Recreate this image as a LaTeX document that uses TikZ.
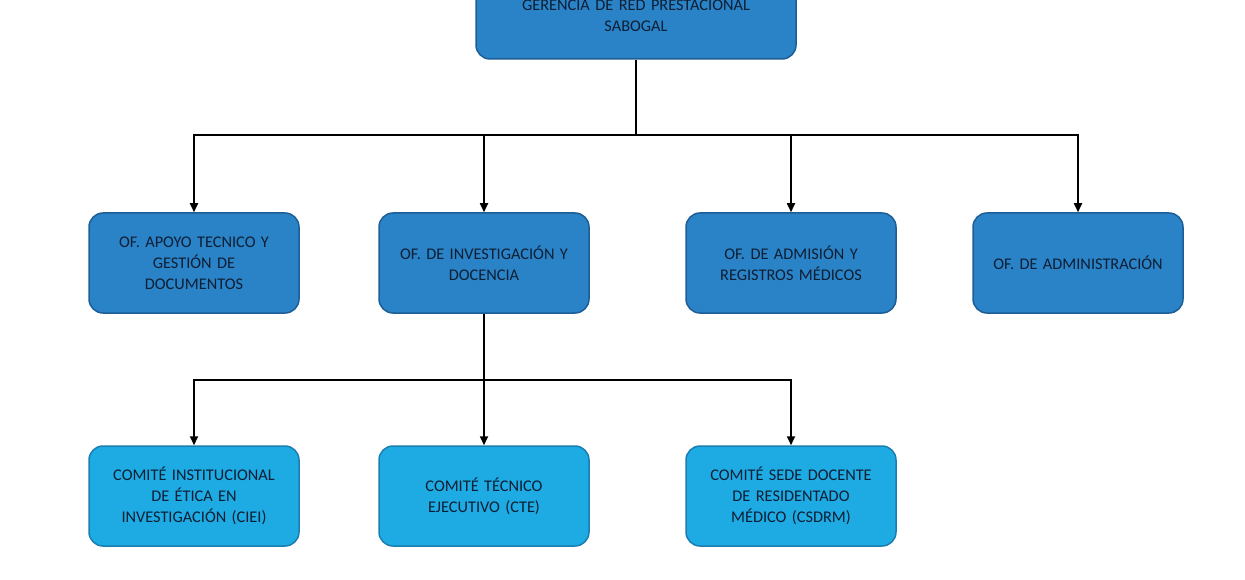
\documentclass[tikz,border=0pt]{standalone}
\usepackage{fontspec}
\setmainfont{Carlito}
\usetikzlibrary{arrows.meta}
\definecolor{ofifill}{HTML}{2A83C7}
\definecolor{ofidraw}{HTML}{1D5E96}
\definecolor{comfill}{HTML}{1EAAE2}
\definecolor{comdraw}{HTML}{1A7FB0}
\definecolor{txtcol}{HTML}{0E1E33}

\begin{document}
\begin{tikzpicture}[
    x=1pt, y=-1pt,
    oficina/.style={rectangle, rounded corners=14pt, draw=ofidraw, line width=1.5pt,
        fill=ofifill, minimum width=210pt, minimum height=100pt, align=center,
        text width=195pt, font=\fontsize{16.3}{21}\selectfont, text=txtcol},
    comite/.style={oficina, draw=comdraw, fill=comfill},
    link/.style={line width=1.7pt, -},
    arrow/.style={line width=1.7pt, -{Triangle[length=9pt,width=8pt]}}
]
    \useasboundingbox (0,0) rectangle (1245,580);
    \node[oficina, minimum width=320pt, minimum height=86pt, text width=290pt] (gerencia) at (636,16)
        {GERENCIA DE RED PRESTACIONAL\\SABOGAL};
    \node[oficina] (apoyo) at (194,263) {OF. APOYO TECNICO Y\\GESTIÓN DE\\DOCUMENTOS};
    \node[oficina] (invest) at (484,263) {OF. DE INVESTIGACIÓN Y\\DOCENCIA};
    \node[oficina] (admision) at (791,263) {OF. DE ADMISIÓN Y\\REGISTROS MÉDICOS};
    \node[oficina] (admin) at (1078,263) {OF. DE ADMINISTRACIÓN};
    \node[comite] (ciei) at (194,496) {COMITÉ INSTITUCIONAL\\DE ÉTICA EN\\INVESTIGACIÓN (CIEI)};
    \node[comite] (cte) at (484,496) {COMITÉ TÉCNICO\\EJECUTIVO (CTE)};
    \node[comite] (csdrm) at (791,496) {COMITÉ SEDE DOCENTE\\DE RESIDENTADO\\MÉDICO (CSDRM)};
    \coordinate (bus1) at (636,135);
    \coordinate (bus2) at (484,380);
    \draw[link] (gerencia) -- (bus1);
    \foreach \n in {apoyo, invest, admision, admin}
        \draw[arrow] (bus1) -| (\n.north);
    \draw[link] (invest) -- (bus2);
    \foreach \n in {ciei, cte, csdrm}
        \draw[arrow] (bus2) -| (\n.north);
\end{tikzpicture}
\end{document}
